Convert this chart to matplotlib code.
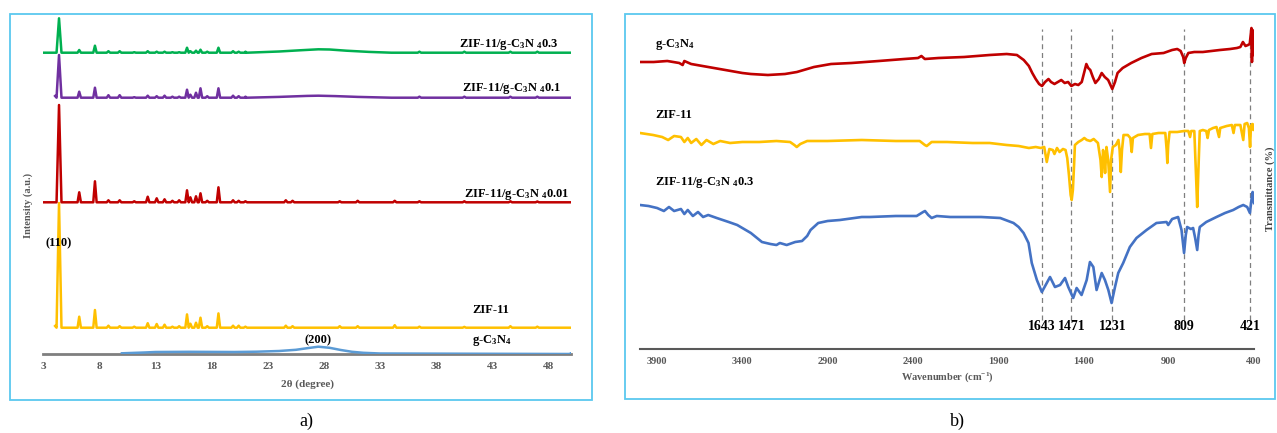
import matplotlib
matplotlib.use("Agg")
import matplotlib.pyplot as plt
from matplotlib.patches import Rectangle
import numpy as np

plt.rcParams['font.family'] = ['Liberation Serif', 'DejaVu Serif']
plt.rcParams['mathtext.fontset'] = 'custom'
plt.rcParams['mathtext.rm'] = 'Liberation Serif:bold'
plt.rcParams['mathtext.bf'] = 'Liberation Serif:bold'
plt.rcParams['mathtext.it'] = 'Liberation Serif:bold'
plt.rcParams['mathtext.default'] = 'rm'

W, H = 1277, 433

# ---- XRD data (2theta, intensity in a.u. above each trace's baseline)
xrd_pos = [4.4, 6.2, 7.6, 8.8, 9.8, 11.1, 12.3, 13.1, 13.8, 14.5, 15.1, 15.8,
           16.1, 16.6, 17.0, 17.6, 18.6, 19.9, 20.4, 21.0, 24.6, 25.2, 29.4,
           31.0, 34.3, 36.5, 40.5, 44.6, 47.0]
zif11_int = [124.7, 11, 17.7, 2, 1.5, 1, 4.5, 3.7, 3, 1, 1.5, 13.3, 4, 5, 10,
             1.5, 14.3, 2, 2, 1, 2, 1.5, 1.5, 1.5, 2.5, 1, 0.8, 1.5, 1]
comp001_int = [97.3, 10, 21, 2, 2, 1, 5.6, 4, 3, 1.5, 2, 12, 5, 6, 9, 1.5, 15,
               2, 1.5, 1, 2, 1.5, 1, 1.5, 1.5, 1, 1, 1, 0.8]
comp01_int = [42.7, 6, 10, 2.5, 2.5, 0.5, 2, 1.5, 2, 1, 1, 8, 3, 5, 9.4, 1.5,
              9.4, 2, 1.5, 1, 0, 0, 0, 0, 0, 1, 1, 1, 1]
comp03_int = [34.4, 2.7, 7, 1.5, 1.5, 0.5, 1.5, 1, 1, 0.5, 0.5, 5, 1.5, 2, 3,
              1, 5, 1.5, 1, 1, 0, 0, 0, 0, 0, 1, 1, 1, 1]

# broad g-C3N4 (002) hump
gcn_tt = [10, 12, 13, 16, 20, 22, 24, 25.5, 26.5, 27.5, 28.5, 29.5, 30.5,
          31.5, 33, 50]
gcn_int = [0.7, 1.5, 2, 2.2, 2, 2.3, 3, 4.2, 5.8, 7.3, 6.2, 4, 2.2, 1.2, 0.5,
           0.5]
hump01_tt = [21, 24, 26.5, 27.5, 29, 31, 34]
hump01_int = [0, 0.8, 1.8, 2, 1.6, 0.8, 0]
hump03_tt = [21, 24, 26, 27.5, 28.5, 30, 32, 34]
hump03_int = [0, 1.2, 2.5, 3.4, 3.2, 2, 0.8, 0]

# ---- FTIR data (wavenumber, transmittance in arbitrary offset units)
gcn_wn = [4000, 3920, 3840, 3770, 3750, 3740, 3700, 3600, 3500, 3400, 3350,
          3250, 3150, 3080, 2980, 2880, 2760, 2600, 2450, 2370, 2350, 2330,
          2250, 2100, 1950, 1850, 1790, 1750, 1720, 1700, 1680, 1660, 1643,
          1625, 1605, 1590, 1570, 1550, 1530, 1510, 1490, 1471, 1450, 1430,
          1410, 1395, 1383, 1372, 1360, 1345, 1330, 1310, 1293, 1275, 1255,
          1231, 1215, 1200, 1170, 1120, 1060, 1000, 930, 880, 850, 830, 815,
          809, 800, 785, 750, 700, 650, 600, 540, 500, 480, 465, 450, 435,
          425, 415, 412, 408, 404, 400]
gcn_t = [287, 287, 288, 286, 284, 288, 285, 282, 279, 276, 275, 274, 275, 277,
         282, 285, 286, 288, 290, 291, 293, 290, 291, 292, 294, 295, 294, 289,
         283, 276, 270, 265, 263, 267, 270, 267, 265, 267, 269, 266, 267, 263,
         265, 264, 267, 277, 285, 281, 279, 272, 266, 270, 276, 272, 269, 260,
         267, 276, 281, 286, 291, 295, 296, 299, 300, 298, 292, 286, 291, 296,
         297, 297, 298, 299, 300, 301, 302, 307, 303, 304, 305, 321, 287, 319,
         294, 304]

zif_wn = [4000, 3923, 3870, 3835, 3800, 3760, 3740, 3720, 3700, 3670, 3640,
          3610, 3570, 3530, 3472, 3400, 3300, 3200, 3120, 3095, 3081, 3060,
          3020, 2900, 2700, 2500, 2360, 2330, 2319, 2290, 2200, 2050, 1950,
          1850, 1780, 1720, 1680, 1650, 1630, 1615, 1600, 1580, 1570, 1555,
          1540, 1520, 1505, 1495, 1485, 1475, 1469, 1462, 1455, 1450, 1430,
          1410, 1395, 1380, 1360, 1340, 1315, 1300, 1293, 1285, 1278, 1273,
          1265, 1255, 1244, 1238, 1228, 1210, 1195, 1188, 1181, 1174, 1165,
          1140, 1125, 1117, 1110, 1080, 1040, 1012, 1004, 996, 960, 920, 912,
          908, 903, 895, 850, 809, 785, 775, 768, 750, 740, 733, 726, 718, 700,
          680, 672, 664, 640, 620, 605, 598, 560, 530, 520, 512, 480, 463, 455,
          440, 430, 423, 418, 410, 404, 400]
zif_t = [216, 214, 212, 209, 213, 212, 207, 211, 206, 210, 204, 209, 205, 208,
         206, 207, 207, 208, 207, 204, 202, 205, 208, 208, 209, 208, 208, 204,
         203, 207, 207, 206, 206, 204, 203, 201, 202, 201, 202, 187, 200, 199,
         195, 201, 197, 200, 199, 191, 174, 154, 149, 159, 184, 204, 207, 209,
         211, 209, 208, 210, 206, 189, 172, 199, 189, 176, 202, 189, 157, 189,
         202, 204, 209, 199, 177, 199, 214, 214, 211, 197, 211, 214, 215, 215,
         201, 215, 216, 216, 199, 186, 204, 217, 217, 218, 218, 212, 218, 218,
         174, 142, 179, 218, 219, 218, 211, 219, 221, 222, 212, 221, 223, 224,
         216, 224, 224, 209, 225, 226, 221, 202, 223, 225, 219, 224]

comp_wn = [4000, 3950, 3900, 3860, 3830, 3800, 3760, 3740, 3720, 3690, 3660,
           3630, 3600, 3550, 3480, 3430, 3350, 3285, 3235, 3200, 3180, 3140,
           3090, 3050, 3020, 3000, 2955, 2900, 2828, 2700, 2652, 2500, 2378,
           2340, 2329, 2310, 2290, 2260, 2181, 2000, 1888, 1810, 1780, 1751,
           1722, 1703, 1673, 1644, 1615, 1596, 1567, 1537, 1508, 1489, 1460,
           1440, 1411, 1381, 1362, 1342, 1323, 1293, 1274, 1254, 1235, 1215,
           1196, 1167, 1128, 1089, 1030, 972, 913, 903, 880, 845, 825, 810, 800,
           792, 770, 757, 745, 733, 725, 718, 680, 620, 570, 522, 490, 463, 440,
           424, 415, 408, 404, 400]
comp_t = [144, 143, 141, 138, 142, 138, 140, 135, 139, 133, 137, 132, 134, 131,
          127, 124, 116, 107, 105, 104, 106, 104, 107, 108, 113, 119, 126, 128,
          129, 132, 132, 133, 133, 137, 138, 134, 131, 133, 132, 132, 131, 126,
          122, 116, 106, 86, 69, 57, 66, 72, 62, 64, 71, 62, 51, 61, 54, 69, 87,
          82, 59, 76, 69, 59, 46, 62, 76, 86, 102, 111, 119, 126, 127, 124, 130,
          132, 119, 96, 114, 122, 120, 121, 111, 99, 114, 122, 127, 132, 136,
          139, 142, 144, 142, 136, 149, 157, 149, 146]

ftir_marks = [1643, 1471, 1231, 809, 421]

RED = '#c00000'
YEL = '#ffc000'
GRN = '#00b050'
PUR = '#7030a0'
BLU = '#4472c4'
LBLU = '#5b9bd5'
GREY = '#595959'
FRAME = '#5bc8ef'


def px_axes(fig, left, top, right, bottom):
    return fig.add_axes([left / W, 1 - bottom / H, (right - left) / W,
                         (bottom - top) / H])


def xrd_line(pos, heights, start, start_h, hump_x=(), hump_y=()):
    pts = [(start, start_h), (50, 0)]
    for p, h in zip(pos, heights):
        if h <= 0:
            continue
        hw = 0.22 if p < 5 else 0.15
        pts += [(p - hw, 0), (p, h), (p + hw, 0)]
    pts += list(zip(hump_x, hump_y))
    pts.sort()
    return np.array(pts).T


fig = plt.figure(figsize=(W / 100, H / 100), dpi=100)

# panel frames
fig.add_artist(Rectangle((10 / W, 1 - 400 / H), 582 / W, 386 / H,
                         transform=fig.transFigure, fill=False,
                         edgecolor=FRAME, lw=1.3))
fig.add_artist(Rectangle((625 / W, 1 - 399 / H), 650 / W, 385 / H,
                         transform=fig.transFigure, fill=False,
                         edgecolor=FRAME, lw=1.3))

# ---------------- a) XRD
ax = px_axes(fig, 43.3, 14, 571, 354)
ax.set_xlim(3, 50)
ax.set_ylim(0, 340)
offsets = {'g': 0, 'zif': 26.3, '001': 151.7, '01': 256.3, '03': 301.3}
lw_a = 1.8

x, y = xrd_line([], [], 10, 0.7, gcn_tt, gcn_int)
ax.plot(x, y + offsets['g'], color=LBLU, lw=lw_a, zorder=3)
x, y = xrd_line(xrd_pos, zif11_int, 4.05, 1.7)
ax.plot(x, y + offsets['zif'], color=YEL, lw=lw_a)
x, y = xrd_line(xrd_pos, comp001_int, 3.0, 0)
ax.plot(x, y + offsets['001'], color=RED, lw=lw_a)
x, y = xrd_line(xrd_pos, comp01_int, 4.05, 1.7, hump01_tt, hump01_int)
ax.plot(x, y + offsets['01'], color=PUR, lw=lw_a)
x, y = xrd_line(xrd_pos, comp03_int, 3.0, 0, hump03_tt, hump03_int)
ax.plot(x, y + offsets['03'], color=GRN, lw=lw_a)

lab = dict(fontsize=9, fontweight='bold', color='black', va='center')
ax.text(40.0, 310, 'ZIF-11/g-C$_3$N $_4$0.3', **lab)
ax.text(40.3, 265, 'ZIF-11/g-C$_3$N $_4$0.1', **lab)
ax.text(40.5, 159, 'ZIF-11/g-C$_3$N $_4$0.01', **lab)
ax.text(41.2, 44, 'ZIF-11', **lab)
ax.text(41.2, 14, 'g-C$_3$N$_4$', **lab)
ax.text(4.4, 111, '(110)', ha='center', fontsize=9, fontweight='bold',
        va='center')
ax.text(27.5, 14, '(200)', ha='center', fontsize=9, fontweight='bold',
        va='center')

ax.set_xticks(np.arange(3, 50, 5))
ax.tick_params(length=0, labelsize=8, labelcolor=GREY, pad=6)
for t in ax.get_xticklabels():
    t.set_fontweight('bold')
ax.set_yticks([])
for s in ['top', 'right', 'left']:
    ax.spines[s].set_visible(False)
ax.spines['bottom'].set_color('#7f7f7f')
ax.spines['bottom'].set_linewidth(2)
ax.patch.set_alpha(0)
ax.set_xlabel('2θ (degree)', fontsize=8, fontweight='bold', color=GREY,
              labelpad=6)
fig.text(28.5 / W, 1 - 205 / H, 'Intensity (a.u.)', rotation=90,
         fontsize=7.5, fontweight='bold', color=GREY, ha='center',
         va='center')
fig.text(306 / W, 1 - 421 / H, 'a)', fontsize=13, ha='center', va='center')

# ---------------- b) FTIR
bx = px_axes(fig, 640, 14, 1254, 349)
bx.set_xlim(4000, 400)
bx.set_ylim(0, 335)
lw_b = 1.9
bx.plot(gcn_wn, gcn_t, color=RED, lw=lw_b)
bx.plot(zif_wn, zif_t, color=YEL, lw=lw_b)
bx.plot(comp_wn, comp_t, color=BLU, lw=lw_b)
bx.vlines(ftir_marks, 29, 320, colors='#7f7f7f', linestyles=(0, (4, 3)),
          lw=0.9, zorder=0)
for wn in ftir_marks:
    bx.text(wn, 22, str(wn), ha='center', va='center', fontsize=10,
            fontweight='bold')

labb = dict(fontsize=9, fontweight='bold', color='black', va='center')
bx.text(3911, 304, 'g-C$_3$N$_4$', **labb)
bx.text(3911, 234, 'ZIF-11', **labb)
bx.text(3911, 166, 'ZIF-11/g-C$_3$N $_4$0.3', **labb)

bx.set_xticks(np.arange(3900, 399, -500))
bx.tick_params(length=0, labelsize=7.5, labelcolor=GREY, pad=6)
for t in bx.get_xticklabels():
    t.set_fontweight('bold')
bx.set_yticks([])
for s in ['top', 'right', 'left']:
    bx.spines[s].set_visible(False)
bx.spines['bottom'].set_color('#595959')
bx.spines['bottom'].set_linewidth(1.5)
bx.patch.set_alpha(0)
bx.set_xlabel('Wavenumber (cm$^{-1}$)', fontsize=7.5, fontweight='bold',
              color=GREY, labelpad=3)
fig.text(1270 / W, 1 - 189 / H, 'Transmittance (%)', rotation=90,
         fontsize=7.5, fontweight='bold', color='#404040', ha='center',
         va='center')
fig.text(957 / W, 1 - 421 / H, 'b)', fontsize=13, ha='center', va='center')

fig.savefig('out.png', dpi=100)
